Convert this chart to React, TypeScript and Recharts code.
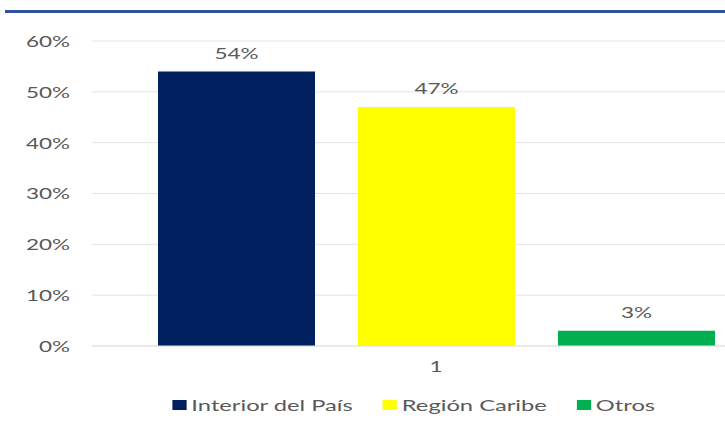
import { Bar, BarChart, CartesianGrid, LabelList, Legend, XAxis, YAxis } from "recharts";

const categories = ["1"];
const seriesNames = ["Interior del País", "Región Caribe", "Otros"];
const seriesKeys = ["interior", "caribe", "otros"];
const seriesValues = [[54], [47], [3]];
const COLORS = ["#002060", "#FFFF00", "#00B050"];
const yTicks = [0, 10, 20, 30, 40, 50, 60];

const data = categories.map((name, i) => {
  const row: any = { name };
  seriesKeys.forEach((k, s) => {
    row[k] = seriesValues[s][i];
  });
  return row;
});

const FONT = "Lato, 'Open Sans', sans-serif";
const TEXT = "#595959";
// the reference text is stretched sideways, so every label gets a scaleX
const SX = 1.5;

const YTick = (props: any) => {
  const { x, y, payload } = props;
  return (
    <text
      transform={`translate(${x},${y}) scale(${SX},1)`}
      textAnchor="end"
      dominantBaseline="central"
      fill={TEXT}
      fontSize={15}
      fontFamily={FONT}
    >
      {`${payload.value}%`}
    </text>
  );
};

const XTick = (props: any) => {
  const { x, y, payload } = props;
  return (
    <text
      transform={`translate(${x},${y}) scale(${SX},1)`}
      textAnchor="middle"
      dominantBaseline="central"
      fill={TEXT}
      fontSize={15}
      fontFamily={FONT}
    >
      {payload.value}
    </text>
  );
};

const renderValueLabel = (props: any) => {
  const { x, y, width, value } = props;
  return (
    <text
      transform={`translate(${x + width / 2},${y - 13}) scale(${SX},1)`}
      textAnchor="middle"
      fill={TEXT}
      fontSize={15}
      fontFamily={FONT}
    >
      {`${value}%`}
    </text>
  );
};

const renderLegend = () => (
  <div style={{ height: 20, display: "flex", justifyContent: "center" }}>
    <div
      style={{
        display: "flex",
        alignItems: "center",
        fontFamily: FONT,
        fontSize: 15,
        color: TEXT,
        transform: "scaleX(1.58)",
        transformOrigin: "center",
      }}
    >
      {seriesNames.map((n, idx) => (
        <div key={n} style={{ display: "flex", alignItems: "center", marginLeft: idx === 0 ? 0 : 19 }}>
          <span style={{ display: "inline-block", width: 9, height: 10, background: COLORS[idx], marginRight: 3 }} />
          <span>{n}</span>
        </div>
      ))}
    </div>
  </div>
);

const App = () => {
  return (
    <div style={{ position: "fixed", left: 0, top: 0, width: 725, height: 431, overflow: "hidden", background: "#fff" }}>
      <div style={{ position: "absolute", left: 5, top: 10, width: 720, height: 3, background: "#2F52A0" }} />
      <BarChart
        width={780}
        height={431}
        data={data}
        margin={{ top: 41, right: 0, bottom: 35, left: 0 }}
        barGap={43}
        barCategoryGap={66}
      >
        <CartesianGrid vertical={false} stroke="#e3e3e3" />
        <XAxis
          dataKey="name"
          height={30}
          axisLine={{ stroke: "#e3e3e3" }}
          tickLine={false}
          tick={<XTick />}
          tickMargin={14}
        />
        <YAxis
          width={92}
          domain={[0, 60]}
          ticks={yTicks}
          axisLine={false}
          tickLine={false}
          tickMargin={16}
          tick={<YTick />}
        />
        <Legend verticalAlign="bottom" content={renderLegend} wrapperStyle={{ left: 0, width: 828, bottom: 16 }} />
        {seriesKeys.map((k, s) => (
          <Bar key={k} dataKey={k} name={seriesNames[s]} fill={COLORS[s]} barSize={157} isAnimationActive={false}>
            <LabelList dataKey={k} content={renderValueLabel} />
          </Bar>
        ))}
      </BarChart>
    </div>
  );
};

export default App;
